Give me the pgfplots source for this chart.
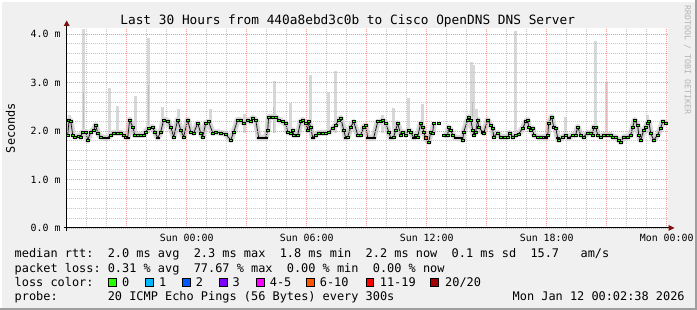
\documentclass[border=0pt]{standalone}
\usepackage{pgfplots}
\pgfplotsset{compat=1.18}
\usepackage{pgfplotstable}
\usepackage{fontspec}
\newfontfamily\mono{DejaVu Sans Mono}
\definecolor{bgcol}{HTML}{F0F0F0}
\definecolor{shadeB}{HTML}{9E9E9E}
\definecolor{majgrid}{HTML}{F09A9A}
\definecolor{mingrid}{HTML}{C8C8C8}
\definecolor{smokelight}{HTML}{D8D8D8}
\definecolor{smokemid}{HTML}{C0C0C0}
\definecolor{smokedark}{HTML}{BEBEBE}
\definecolor{arrowcol}{HTML}{7F1010}
\definecolor{lc0}{HTML}{26FF00}
\definecolor{lc1}{HTML}{00B8FF}
\definecolor{lc2}{HTML}{0059FF}
\definecolor{lc3}{HTML}{7E00FF}
\definecolor{lc4}{HTML}{FF00FF}
\definecolor{lc6}{HTML}{FF5500}
\definecolor{lc11}{HTML}{FF0000}
\definecolor{lc20}{HTML}{A10000}
\definecolor{rrdgray}{HTML}{B4B4B4}

\pgfplotstableread{
h ms
0.05 1.92
0.12 2.23
0.2 2.21
0.3 1.92
0.4 1.88
0.6 1.90
0.7 1.88
0.8 1.98
0.95 1.98
1.05 1.81
1.2 1.98
1.35 2.02
1.45 2.12
1.55 1.96
1.7 1.88
1.9 1.86
2.05 1.86
2.2 1.92
2.35 1.96
2.55 1.96
2.7 1.96
2.85 1.92
2.95 1.88
3.05 1.86
3.15 2.23
3.3 2.08
3.4 1.92
3.55 1.92
3.7 1.92
3.85 1.92
3.95 1.98
4.1 2.06
4.3 2.08
4.4 1.98
4.55 1.86
4.7 1.98
4.85 2.23
5.05 2.21
5.2 2.08
5.35 1.88
5.55 2.23
5.7 2.02
5.85 1.88
6.05 2.23
6.2 1.98
6.35 1.96
6.55 2.16
6.7 1.96
6.8 1.88
6.95 2.16
7.1 2.19
7.3 1.96
7.45 1.98
7.7 1.96
7.95 1.94
8.2 1.81
8.35 1.98
8.55 2.23
8.7 2.23
8.85 2.16
9.05 2.23
9.2 2.19
9.3 2.27
9.45 2.23
9.6 1.86
9.8 1.86
9.95 1.86
10.05 2.02
10.1 2.29
10.3 2.29
10.45 2.29
10.6 2.23
10.8 2.19
10.95 2.16
11.05 1.98
11.2 1.96
11.3 2.02
11.35 1.92
11.55 1.92
11.7 2.19
11.8 2.23
11.95 2.16
12.05 2.02
12.1 2.19
12.2 2.08
12.3 1.86
12.45 1.92
12.6 1.96
12.8 1.96
12.95 1.96
13.1 1.98
13.3 2.06
13.45 2.12
13.6 2.23
13.7 2.27
13.85 2.02
13.95 1.86
14.05 1.88
14.2 2.08
14.35 2.19
14.55 1.92
14.7 1.92
14.85 2.08
14.95 2.12
15.05 1.86
15.2 1.86
15.35 1.86
15.55 2.19
15.7 2.19
15.8 2.23
15.95 2.16
16.1 1.98
16.2 1.86
16.35 1.88
16.45 2.02
16.55 2.16
16.7 1.92
16.8 1.98
16.95 1.92
17.1 2.02
17.2 1.98
17.35 1.86
17.45 1.92
17.55 1.88
17.7 2.16
17.8 2.08
17.85 1.98
17.95 1.86
18.1 1.77
18.2 1.98
18.3 1.96
18.35 2.16
18.45 nan
18.6 2.16
18.7 nan
18.85 1.92
19.05 1.92
19.1 2.08
19.2 2.02
19.3 1.92
19.45 1.86
19.6 1.86
19.7 1.86
19.8 1.81
19.85 1.98
20.05 2.23
20.1 2.29
20.2 2.23
20.3 2.02
20.35 1.92
20.45 1.98
20.55 2.23
20.6 2.08
20.8 1.98
20.85 1.96
21.05 2.23
21.2 2.12
21.3 2.06
21.35 1.88
21.55 1.96
21.7 1.88
21.9 1.88
22.05 1.88
22.15 1.96
22.3 1.88
22.45 1.92
22.6 1.94
22.8 2.06
22.95 2.19
23.05 2.23
23.1 2.08
23.2 2.02
23.3 2.06
23.35 1.92
23.55 1.88
23.7 1.88
23.85 1.88
23.95 1.86
24.05 1.92
24.1 2.16
24.25 2.29
24.35 2.08
24.45 2.06
24.55 1.86
24.6 1.81
24.8 1.88
24.95 1.92
25.1 1.86
25.3 1.92
25.45 1.92
25.55 2.08
25.7 1.92
25.85 1.88
26.05 1.96
26.2 1.96
26.3 1.92
26.35 2.08
26.45 2.08
26.55 1.92
26.7 1.88
26.85 1.92
27.05 1.92
27.2 1.92
27.3 1.88
27.45 1.88
27.6 1.81
27.7 1.77
27.85 1.88
28.05 1.88
28.2 1.92
28.3 2.08
28.4 2.23
28.55 2.12
28.6 1.92
28.7 1.81
28.85 2.02
28.95 2.08
29.05 2.16
29.1 2.19
29.2 1.96
29.35 1.81
29.55 1.92
29.7 2.06
29.8 2.19
29.95 2.16
}\median

\newcommand\legfont{\mono\fontsize{11.9}{14}\selectfont}
\newcommand\tickfont{\mono\fontsize{9.9}{12}\selectfont}

\begin{document}
\begin{tikzpicture}
\useasboundingbox (0pt,0pt) rectangle (697pt,310pt);
\fill[bgcol] (0pt,0pt) rectangle (697pt,310pt);
\fill[white] (0pt,308pt) rectangle (697pt,310pt);
\fill[white] (0pt,0pt) rectangle (2pt,310pt);
\fill[shadeB] (0pt,0pt) rectangle (697pt,2pt);
\fill[shadeB] (695pt,0pt) rectangle (697pt,310pt);

\begin{axis}[
  at={(66.7pt,82pt)}, anchor=south west,
  width=601.3pt, height=200pt, scale only axis,
  xmin=0, xmax=30.065, ymin=0, ymax=4.124,
  axis background/.style={fill=white},
  axis line style={draw=none},
  xtick={3,6,9,12,15,18,21,24,27,30},
  xticklabels={,Sun 00:00,,Sun 06:00,,Sun 12:00,,Sun 18:00,,Mon 00:00},
  minor xtick={1,2,4,5,7,8,10,11,13,14,16,17,19,20,22,23,25,26,28,29},
  ytick={0,1,2,3,4},
  yticklabels={0.0 m,1.0 m,2.0 m,3.0 m,4.0 m},
  minor ytick={0.2,0.4,0.6,0.8,1.2,1.4,1.6,1.8,2.2,2.4,2.6,2.8,3.2,3.4,3.6,3.8,4.0},
  grid=both,
  major grid style={color=majgrid, dash pattern=on 1pt off 1pt, line width=0.8pt},
  minor grid style={color=mingrid, dash pattern=on 1pt off 1pt, line width=0.8pt},
  major tick length=0pt, minor tick length=0pt,
  xticklabel style={font=\tickfont, anchor=north, inner sep=0pt, yshift=-5.5pt},
  yticklabel style={font=\tickfont, anchor=east, inner sep=0pt, xshift=-6pt},
  axis on top,
  unbounded coords=jump,
]
% smoke spikes (light)
\addplot[no marks, color=smokelight, line width=2.6pt] coordinates {
(0.15,1.95) (0.15,2.33) (0.15,nan)
(0.85,1.95) (0.85,4.10) (0.85,nan)
(2.15,1.95) (2.15,2.89) (2.15,nan)
(2.55,1.95) (2.55,2.52) (2.55,nan)
(3.45,1.95) (3.45,2.72) (3.45,nan)
(4.1,1.95) (4.1,3.92) (4.1,nan)
(4.8,1.95) (4.8,2.49) (4.8,nan)
(5.6,1.95) (5.6,2.45) (5.6,nan)
(7.2,1.95) (7.2,2.45) (7.2,nan)
(8.9,1.95) (8.9,2.35) (8.9,nan)
(10.4,1.95) (10.4,3.03) (10.4,nan)
(11.2,1.95) (11.2,2.58) (11.2,nan)
(12.2,1.95) (12.2,3.15) (12.2,nan)
(13.1,1.95) (13.1,2.80) (13.1,nan)
(13.45,1.95) (13.45,3.24) (13.45,nan)
(15.8,1.95) (15.8,2.33) (15.8,nan)
(16.35,1.95) (16.35,2.47) (16.35,nan)
(17.1,1.95) (17.1,2.68) (17.1,nan)
(17.8,1.95) (17.8,2.56) (17.8,nan)
(20.25,1.95) (20.25,3.42) (20.25,nan)
(20.35,1.95) (20.35,3.36) (20.35,nan)
(20.5,1.95) (20.5,2.45) (20.5,nan)
(22.45,1.95) (22.45,4.06) (22.45,nan)
(24.95,1.95) (24.95,2.29) (24.95,nan)
(26.45,1.95) (26.45,3.86) (26.45,nan)
(27.0,1.95) (27.0,3.01) (27.0,nan)
(29.05,1.95) (29.05,2.33) (29.05,nan)
};
% smoke spikes (darker lower parts)
\addplot[no marks, color=smokedark, line width=1.4pt] coordinates {
(0.85,1.95) (0.85,2.80) (0.85,nan)
(4.1,1.95) (4.1,2.95) (4.1,nan)
(10.35,1.95) (10.35,2.50) (10.35,nan)
(20.3,1.95) (20.3,2.60) (20.3,nan)
};
% smoke band around median
\addplot[no marks, color=smokelight, line width=6pt, line join=round] table[x=h,y=ms] {\median};
\addplot[no marks, color=smokemid, line width=2.4pt, line join=round] table[x=h,y=ms] {\median};
% median
\addplot[color=black, line width=0.6pt, mark=square*, mark size=1.1pt,
  mark options={draw=none, fill=lc0, xscale=1.4, yscale=0.9}] table[x=h,y=ms] {\median};
\addplot[only marks, mark=square*, mark size=1.2pt, mark options={draw=none, fill=lc6}] coordinates {(17.95,1.86)};
\end{axis}

% axes lines and arrows
\draw[black, line width=1pt] (66.7pt,79pt) -- (66.7pt,284.5pt);
\draw[black, line width=1pt] (63.5pt,82pt) -- (669pt,82pt);
\fill[arrowcol] (63.7pt,284pt) -- (69.7pt,284pt) -- (66.7pt,289.5pt) -- cycle;
\fill[arrowcol] (668.5pt,79pt) -- (668.5pt,85pt) -- (674.5pt,82pt) -- cycle;

% title
\node[anchor=base, inner sep=0pt, font=\mono\fontsize{12.8}{15}\selectfont] at (347.7pt,285.7pt)
  {Last 30 Hours from 440a8ebd3c0b to Cisco OpenDNS DNS Server};
% y label
\node[rotate=90, anchor=base, inner sep=0pt, font=\legfont] at (15pt,182pt) {Seconds};
% rrdtool watermark
\node[rotate=-90, anchor=center, inner sep=0pt, text=rrdgray, font=\mono\fontsize{8.3}{10}\selectfont] at (687.5pt,250pt) {RRDTOOL / TOBI OETIKER};

% legend
\node[anchor=base west, inner sep=0pt, font=\legfont] at (14.5pt,52.2pt)
  {median~rtt:~~2.0~ms~avg~~2.3~ms~max~~1.8~ms~min~~2.2~ms~now~~0.1~ms~sd~~15.7~~~am/s};
\node[anchor=base west, inner sep=0pt, font=\legfont] at (14.5pt,37.9pt)
  {packet~loss:~0.31~\%~avg~~77.67~\%~max~~0.00~\%~min~~0.00~\%~now};
\node[anchor=base west, inner sep=0pt, font=\legfont] at (14.5pt,23.6pt) {loss~color:};
\foreach \bx/\lx/\col/\lab in {108.3/122/lc0/0, 145.7/159/lc1/1, 182.7/195.7/lc2/2, 219.3/232.3/lc3/3, 256.7/269.7/lc4/4-5, 306.7/319.7/lc6/6-10, 366/379.7/lc11/11-19, 430.7/445/lc20/20\slash 20}{
  \filldraw[fill=\col, draw=black, line width=0.8pt] (\bx pt,24pt) rectangle ++(7.6pt,7.8pt);
  \node[anchor=base west, inner sep=0pt, font=\legfont] at (\lx pt,23.6pt) {\lab};
}
\node[anchor=base west, inner sep=0pt, font=\legfont] at (14.5pt,9.3pt)
  {probe:~~~~~~~20~ICMP~Echo~Pings~(56~Bytes)~every~300s};
\node[anchor=base west, inner sep=0pt, font=\legfont] at (512.5pt,9.3pt)
  {Mon~Jan~12~00:02:38~2026};
\end{tikzpicture}
\end{document}
